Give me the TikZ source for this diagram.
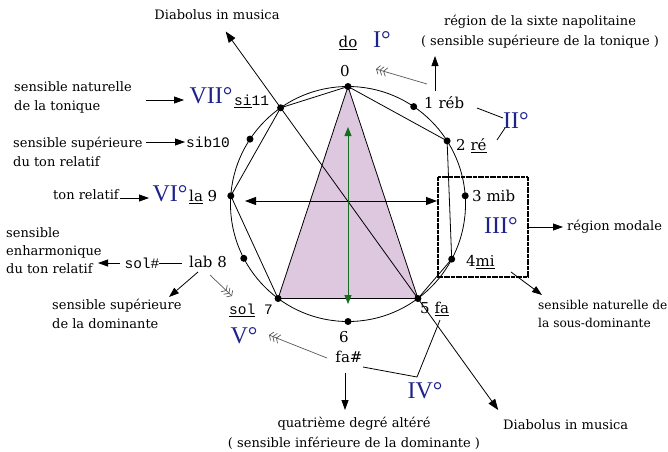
\documentclass[tikz,border=0pt]{standalone}
\usepackage{fontspec}
\setmainfont{DejaVu Serif}
\newfontfamily\mymonof{Liberation Mono}
\newfontfamily\myromf{Liberation Serif}
\usetikzlibrary{arrows.meta,calc}
\definecolor{romblue}{RGB}{30,35,140}
\definecolor{trifill}{RGB}{222,200,224}
\definecolor{grn}{RGB}{20,110,30}
\newcommand\mytxt{\fontsize{13}{18.5}\selectfont}
\newcommand\mynote{\fontsize{15}{18}\selectfont}
\newcommand\mymono{\mymonof\fontsize{14.5}{16}\selectfont}
\newcommand\myrom{\myromf\fontsize{24}{26}\selectfont\color{romblue}}
\begin{document}
\begin{tikzpicture}[x=1pt,y=-1pt,
  lbl/.style={inner sep=0pt, font=\mytxt, align=left},
  clbl/.style={inner sep=0pt, font=\mytxt, align=center},
  note/.style={inner sep=0pt, font=\mynote},
  mono/.style={inner sep=0pt, font=\mymono},
  rom/.style={inner sep=0pt, font=\myrom},
  arr/.style={-{Triangle[length=10pt,width=7pt]}, line width=0.8pt},
  darr/.style={{Triangle[length=11pt,width=8pt]}-{Triangle[length=11pt,width=8pt]}, line width=0.8pt},
  tick/.style={-{Straight Barb[length=3pt,width=9pt]Straight Barb[length=3pt,width=9pt]Straight Barb[length=3pt,width=9pt]}, line width=0.7pt, draw=black!65},
  pln/.style={line width=0.8pt},
  dot/.style={circle, fill=black, inner sep=0pt, minimum size=7pt},
]
\useasboundingbox (0,0) rectangle (668,451);
\fill[white] (0,0) rectangle (668,451);

% circle points
\coordinate (c) at (348,204);
\coordinate (p0) at (348,86.5);
\coordinate (p1) at (413.7,106.6);
\coordinate (p2) at (447.1,140.9);
\coordinate (p3) at (465.2,195.8);
\coordinate (p4) at (451.7,259.1);
\coordinate (p5) at (417.9,298.5);
\coordinate (p6) at (348,321.5);
\coordinate (p7) at (278.1,298.5);
\coordinate (p8) at (243.8,258.3);
\coordinate (p9) at (230.8,195.8);
\coordinate (p10) at (250.0,139.1);
\coordinate (p11) at (280.6,107.8);

% triangle
\filldraw[fill=trifill, pln] (p0) -- (p7) -- (p5) -- cycle;
% circle
\draw[pln] (c) circle[radius=117.5];
% diatonic chords
\draw[pln] (p0) -- (p2) -- (p4) -- (p5);
\draw[pln] (p7) -- (p9) -- (p11) -- (p0);

% box
\draw[line width=1.5pt, dash pattern=on 2pt off 0.4pt, draw=black] (438,177) rectangle (528,277);

% tritone axis
\coordinate (dtop) at ($(p11)!-0.4!(p5)$);
\coordinate (dbot) at ($(p5)!-0.585!(p11)$);
\draw[darr] (dtop) -- (dbot);

% horizontal arrow
\coordinate (hl) at (245,201);
\coordinate (hr) at (437,201);
\draw[darr] (hl) -- (hr);

% green arrow
\coordinate (gt) at (348,127);
\coordinate (gb) at (348,304);
\draw[{Triangle[length=9pt,width=7pt]}-{Triangle[length=9pt,width=7pt]}, line width=0.9pt, draw=grn, fill=grn] (gt) -- (gb);

% dots
\foreach \i in {0,...,11} \node[dot] at (p\i) {};

% texts
\node[clbl] (diab1) at (217,15) {Diabolus in musica};
\node[note] (do) at (348,43) {\underline{do}};
\node[rom] (r1) at (382,40) {I°};
\node[note] (n0) at (345,71) {0};
\node[clbl, font=\fontsize{13}{20}\selectfont] (napo) at (540,32) {région de la sixte napolitaine\\( sensible supérieure de la tonique )};
\node[note, anchor=west] (n1) at (424,103) {1 réb};
\node[rom] (r2) at (516,121) {II°};
\node[note, anchor=west] (n2) at (456,146) {2 \underline{ré}};
\node[lbl, anchor=west] (snt) at (14,97.5) {sensible naturelle\\de la tonique};
\node[rom] (r7) at (211,96) {VII°};
\node[mono, anchor=west] (n11) at (234,101) {\underline{si}11};
\node[lbl, anchor=west] (ssr) at (13,152) {sensible supérieure\\du ton relatif};
\node[mono, anchor=west] (n10) at (186,142) {sib10};
\node[lbl, anchor=east] (tr) at (119,195) {ton relatif};
\node[rom] (r6) at (170,194) {VI°};
\node[note, anchor=west] (n9) at (189,197) {\underline{la} 9};
\node[lbl, anchor=west, font=\fontsize{13}{18}\selectfont] (seh) at (6,251) {sensible\\enharmonique\\du ton relatif};
\node[mono] (solx) at (142,263) {sol\#};
\node[note, anchor=west] (n8) at (189,262) {lab 8};
\node[lbl, anchor=west] (ssd) at (52,314) {sensible supérieure\\de la dominante};
\node[mono, anchor=west] (n7) at (229,310) {\underline{sol} 7};
\node[rom] (r5) at (244,336) {V°};
\node[note] (n6) at (344,337) {6};
\node[note] (fax) at (349,357) {fa\#};
\node[note, anchor=west] (n5) at (420,309) {5 \underline{fa}};
\node[rom] (r4) at (425,391) {IV°};
\node[clbl, font=\fontsize{13}{20}\selectfont] (quat) at (354,433) {quatrième degré altéré\\( sensible inférieure de la dominante )};
\node[lbl, anchor=west] (diab2) at (503,425) {Diabolus in musica};
\node[lbl, anchor=west, font=\fontsize{12.2}{18.5}\selectfont] (snsd) at (538,314) {sensible naturelle de\\la sous-dominante};
\node[lbl, anchor=west] (rmod) at (567,227) {région modale};
\node[note, anchor=west] (n3) at (472,196) {3 mib};
\node[rom] (r3) at (501,226) {III°};
\node[note, anchor=west] (n4) at (466,262) {4\underline{mi}};

% arrows
\coordinate (a1s) at (146,100); \coordinate (a1e) at (184,100);
\draw[arr] (a1s) -- (a1e);
\coordinate (a2s) at (146,142); \coordinate (a2e) at (185,142);
\draw[arr] (a2s) -- (a2e);
\coordinate (a3s) at (120,198); \coordinate (a3e) at (149,198);
\draw[arr] (a3s) -- (a3e);
\coordinate (a4s) at (120,263); \coordinate (a4e) at (98,263);
\draw[arr] (a4s) -- (a4e);
\coordinate (l1s) at (159,263); \coordinate (l1e) at (182,263);
\draw[pln] (l1s) -- (l1e);
\coordinate (a5s) at (198,272); \coordinate (a5e) at (169,297);
\draw[arr] (a5s) -- (a5e);
\coordinate (t1s) at (210,275); \coordinate (t1e) at (232,296);
\draw[tick] (t1s) -- (t1e);
\coordinate (t2s) at (427,84); \coordinate (t2e) at (376,69);
\draw[tick] (t2s) -- (t2e);
\coordinate (a6s) at (435,91); \coordinate (a6e) at (435,56);
\draw[arr] (a6s) -- (a6e);
\coordinate (l2s) at (477,108); \coordinate (l2e) at (503,118);
\draw[pln] (l2s) -- (l2e);
\coordinate (l3s) at (505,128); \coordinate (l3e) at (497,140);
\draw[pln] (l3s) -- (l3e);
\coordinate (a7s) at (529,227); \coordinate (a7e) at (563,227);
\draw[arr] (a7s) -- (a7e);
\coordinate (a8s) at (511,272); \coordinate (a8e) at (542,295);
\draw[arr] (a8s) -- (a8e);
\coordinate (t3s) at (327,358); \coordinate (t3e) at (269,335);
\draw[tick] (t3s) -- (t3e);
\coordinate (a9s) at (345,373); \coordinate (a9e) at (345,410);
\draw[arr] (a9s) -- (a9e);
\coordinate (l4s) at (363,367); \coordinate (l4m) at (417,377); \coordinate (l4e) at (440,320);
\draw[pln] (l4s) -- (l4m) -- (l4e);
\end{tikzpicture}
\end{document}
